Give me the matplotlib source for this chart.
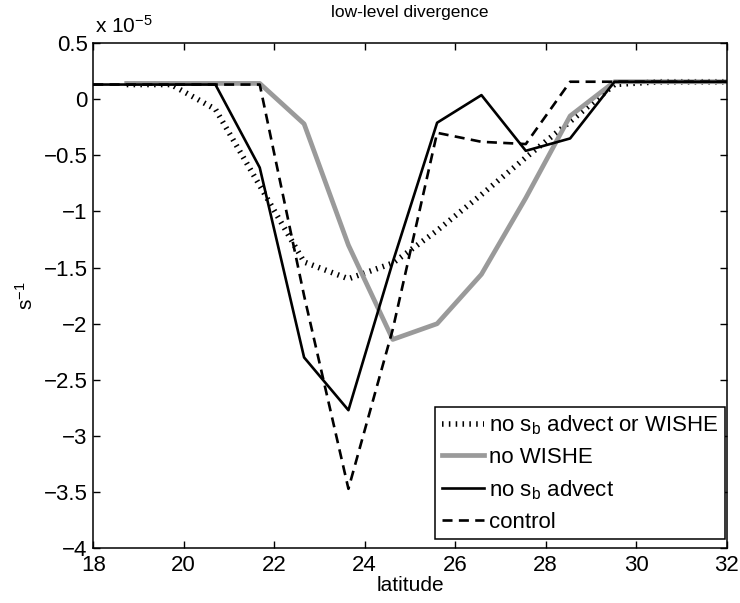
import numpy as np
import matplotlib
matplotlib.use("Agg")
import matplotlib.pyplot as plt
from matplotlib.ticker import FuncFormatter

plt.rcParams["font.family"] = ["Liberation Sans", "DejaVu Sans"]
plt.rcParams["mathtext.fontset"] = "custom"
plt.rcParams["mathtext.rm"] = "Liberation Sans"
plt.rcParams["mathtext.it"] = "Liberation Sans"

# latitude grid (black runs start at 18, grey/dotted at 18.74)
lat = [18.0, 18.74, 19.72, 20.70, 21.68, 22.66, 23.64, 24.62, 25.60,
       26.58, 27.56, 28.54, 29.52, 30.50, 31.48, 32.0]

# low-level divergence, units of 1e-5 s^-1
no_sb_or_wishe = [0.13, 0.13, -0.09, -0.77, -1.45, -1.60, -1.46, -1.17,
                  -0.85, -0.52, -0.20, 0.13, 0.155, 0.155, 0.155]
no_wishe = [0.14, 0.14, 0.14, 0.14, -0.22, -1.30, -2.14, -2.00, -1.56,
            -0.88, -0.15, 0.155, 0.155, 0.155, 0.155]
no_sb_advect = [0.13, 0.13, 0.13, 0.13, -0.61, -2.30, -2.77, -1.45,
                -0.21, 0.036, -0.46, -0.35, 0.155, 0.155, 0.155, 0.155]
control = [0.13, 0.13, 0.13, 0.13, 0.13, -1.75, -3.47, -2.05, -0.30,
           -0.38, -0.40, 0.155, 0.155, 0.155, 0.155, 0.155]

labels = [r"no s$_{\mathrm{b}}$ advect or WISHE", "no WISHE",
          r"no s$_{\mathrm{b}}$ advect", "control"]

fig = plt.figure(figsize=(7.40, 6.03), dpi=100)
ax = fig.add_axes([0.126, 0.0907, 0.856, 0.838])

ax.plot(lat[1:], no_sb_or_wishe, color="black", lw=4.0,
        linestyle=(0, (0.28, 0.95)), label=labels[0])
ax.plot(lat[1:], no_wishe, color="#9a9a9a", lw=3.4, label=labels[1])
ax.plot(lat, no_sb_advect, color="black", lw=1.9, label=labels[2])
ax.plot(lat, control, color="black", lw=1.9, linestyle=(0, (3.8, 2.4)),
        label=labels[3])

ax.set_xlim(18, 32)
ax.set_ylim(-4, 0.5)
ax.set_xticks(np.arange(18, 33, 2))
ax.set_yticks(np.arange(-4, 0.51, 0.5))
ax.yaxis.set_major_formatter(FuncFormatter(lambda v, p: ("%g" % v).replace("-", "\u2212")))
ax.tick_params(direction="in", top=True, right=True, length=5, width=1,
               labelsize=16)
ax.tick_params(axis="x", pad=5)
ax.tick_params(axis="y", pad=4)
for s in ax.spines.values():
    s.set_linewidth(1.1)

ax.set_title("low-level divergence", fontsize=12.5, pad=19)
ax.set_xlabel("latitude", fontsize=15, labelpad=0)
ax.set_ylabel(r"s$^{-1}$", fontsize=15, labelpad=5)
ax.text(0.003, 1.012, r"x 10$^{-5}$", transform=ax.transAxes, fontsize=15,
        ha="left", va="bottom")

leg = ax.legend(loc="lower right", bbox_to_anchor=(0.998, 0.018),
                borderaxespad=0, fancybox=False, framealpha=1,
                edgecolor="black", fontsize=16, handlelength=1.9,
                handletextpad=0.25, borderpad=0.3, labelspacing=0.45)
leg.get_frame().set_linewidth(1.1)

fig.savefig("out.png", dpi=100)
